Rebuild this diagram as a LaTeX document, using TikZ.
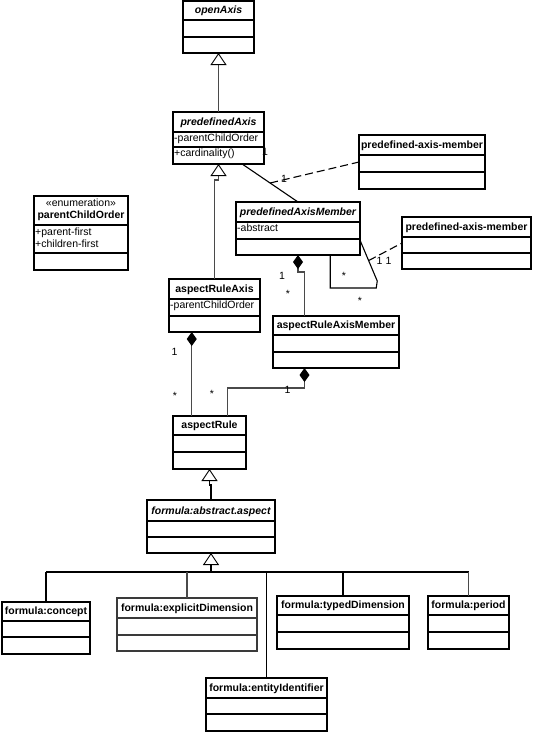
\documentclass[tikz,border=0pt]{standalone}
\usepackage{fontspec}
\setmainfont{Liberation Sans}
\usetikzlibrary{arrows.meta,calc}
\definecolor{lgray}{HTML}{4A4A4A}
\definecolor{bgray}{HTML}{3A3A3A}
\tikzset{
  every picture/.style={x=1pt,y=-1pt},
  box/.style={draw, line width=1.1pt, inner sep=0pt, outer sep=0pt, anchor=north west},
  ttl/.style={font=\fontsize{10.5}{12}\selectfont\bfseries, anchor=base, inner sep=0pt},
  attr/.style={font=\fontsize{10.5}{12}\selectfont, anchor=base west, inner sep=0pt},
  mult/.style={font=\fontsize{10.5}{12}\selectfont, anchor=base, inner sep=0pt},
  conn/.style={line width=1.1pt},
  gen/.style={conn, {Triangle[open, width=16pt, length=12pt, fill=white, color=black, line width=0.9pt]}-},
  comp/.style={conn, {Diamond[width=10pt, length=14pt, fill=black, color=black]}-},
  assoccls/.style={conn, dash pattern=on 8pt off 4pt},
}
% name, left, top, right, div1, div2, bottom, title, extra style
\newcommand\umlclass[9]{%
  \node[box, #9, minimum width={(#4-#2)*1pt}, minimum height={(#7-#3)*1pt}] (#1) at (#2,#3) {};
  \draw[line width=1.1pt, #9] (#2,#5) -- (#4,#5) (#2,#6) -- (#4,#6);
  \node[ttl] (#1-t) at ({(#2+#4)/2},{#5-6.5}) {#8};
}
\begin{document}
\begin{tikzpicture}
\useasboundingbox (0,0) rectangle (533,732);

\umlclass{openAxis}{183}{1}{254}{20}{37}{53}{\itshape openAxis}{}
\umlclass{predefinedAxis}{173}{112}{264}{132}{147}{164}{\itshape predefinedAxis}{}
\node[attr] (pa-a1) at (174,141.5) {-parentChildOrder};
\node[attr] (pa-a2) at (174,156.5) {+cardinality()};

\umlclass{pam1}{359}{135}{485}{155}{172}{189}{predefined-axis-member}{}
\umlclass{pam}{236}{202}{360}{222}{239}{255}{\itshape predefinedAxisMember}{}
\node[attr] (pam-a1) at (237,231.5) {-abstract};
\umlclass{pam2}{402}{217}{531}{237}{253}{269}{predefined-axis-member}{}

\umlclass{enum}{34}{196}{128}{225}{253}{270}{parentChildOrder}{}
\node[mult] (enum-s) at (81,206) {«enumeration»};
\node[attr] (enum-a1) at (35,235) {+parent-first};
\node[attr] (enum-a2) at (35,247.5) {+children-first};

\umlclass{ara}{169}{279}{260}{299}{316}{332}{aspectRuleAxis}{}
\node[attr] (ara-a1) at (170,308.5) {-parentChildOrder};
\umlclass{arm}{273}{316}{399}{335}{352}{368}{aspectRuleAxisMember}{}
\umlclass{aspectRule}{173}{416}{246}{435}{452}{469}{aspectRule}{}
\umlclass{abs}{147}{500}{275}{521}{537}{553}{\itshape formula:abstract.aspect}{}

\umlclass{concept}{2}{602}{90}{621}{637}{654}{formula:concept}{}
\umlclass{explicitDim}{117}{598}{257}{618}{635}{651}{formula:explicitDimension}{draw=bgray}
\umlclass{typedDim}{277}{596}{409}{615}{632}{649}{formula:typedDimension}{}
\umlclass{period}{428}{596}{509}{615}{632}{649}{formula:period}{}
\umlclass{entityId}{206}{678}{327}{698}{714}{731}{formula:entityIdentifier}{}

% generalizations
\draw[gen, draw=lgray] (openAxis.south) -- (predefinedAxis.north);
\draw[gen, draw=lgray] (predefinedAxis.south) -- ++(0,16) -| (ara.north);
\draw[gen] (aspectRule.south) -- ++(0,16) -| (abs.north);
\draw[gen] (abs.south) -- ++(0,19) coordinate (j);
\draw[conn] (j -| concept.north) -- (j -| period.north);
\draw[conn] (j -| concept.north) -- (concept.north);
\draw[conn, draw=lgray] (j -| explicitDim.north) -- (explicitDim.north);
\draw[conn] (j -| entityId.north) -- (entityId.north);
\draw[conn] (j -| typedDim.north) -- (typedDim.north);
\draw[conn, draw=lgray] (j -| period.north) -- (period.north);

% associations
\coordinate (a1) at ($(predefinedAxis.south west)!0.76!(predefinedAxis.south east)$);
\draw[conn] (a1) -- coordinate[pos=0.5] (mid1) (pam.north);
\draw[assoccls] (mid1) -- (pam1.west);

\coordinate (s1) at ($(pam.south west)!0.76!(pam.south east)$);
\coordinate (s2) at ($(pam.north east)!0.72!(pam.south east)$);
\draw[conn] (s1) -- ++(0,33) -- ++(46,0) -- ++(1,-7) -- coordinate[pos=0.5] (mid2) (s2);
\draw[assoccls] (mid2) -- (pam2.west);

% compositions
\coordinate (c0) at ($(arm.north west)!0.25!(arm.north east)$);
\draw[comp, draw=lgray] (pam.south) -- ++(0,17) -| (c0);
\coordinate (c1) at ($(ara.south west)!0.25!(ara.south east)$);
\draw[comp, draw=lgray] (c1) -- (c1 |- aspectRule.north);
\coordinate (c2) at ($(arm.south west)!0.25!(arm.south east)$);
\coordinate (c3) at ($(aspectRule.north west)!0.75!(aspectRule.north east)$);
\draw[comp, draw=lgray] (c2) -- ++(0,20) -| (c3);

% multiplicities
\node[mult] (m1) at (265,155.5) {1};
\node[mult] (m2) at (284,182) {1};
\node[mult] (m3) at (282,279) {1};
\node[mult] (m4) at (288,297) {*};
\node[mult] (m5) at (344,279) {*};
\node[mult] (m6) at (360,304) {*};
\node[mult] (m7) at (379.5,264) {1};
\node[mult] (m8) at (388.5,264) {1};
\node[mult] (m9) at (174.5,355.5) {1};
\node[mult] (m10) at (175,399) {*};
\node[mult] (m11) at (212,397) {*};
\node[mult] (m12) at (287.5,393) {1};
\end{tikzpicture}
\end{document}
